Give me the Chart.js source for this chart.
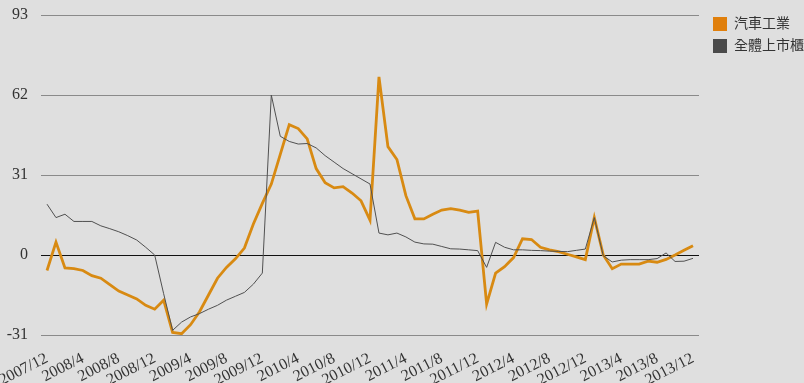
<!DOCTYPE html>
<html>
<head>
<meta charset="utf-8">
<script src="https://cdn.jsdelivr.net/npm/chart.js@4.4.1/dist/chart.umd.min.js"></script>
<style>
html,body{margin:0;padding:0;background:#dfdfdf;}
#wrap{width:804px;height:383px;position:relative;background:#dfdfdf;}
canvas{display:block;}
</style>
</head>
<body>
<div id="wrap"><canvas id="c" width="804" height="383"></canvas></div>
<script>
const months = [
 '2007/12',
 '2008/1','2008/2','2008/3','2008/4','2008/5','2008/6','2008/7','2008/8','2008/9','2008/10','2008/11','2008/12',
 '2009/1','2009/2','2009/3','2009/4','2009/5','2009/6','2009/7','2009/8','2009/9','2009/10','2009/11','2009/12',
 '2010/1','2010/2','2010/3','2010/4','2010/5','2010/6','2010/7','2010/8','2010/9','2010/10','2010/11','2010/12',
 '2011/1','2011/2','2011/3','2011/4','2011/5','2011/6','2011/7','2011/8','2011/9','2011/10','2011/11','2011/12',
 '2012/1','2012/2','2012/3','2012/4','2012/5','2012/6','2012/7','2012/8','2012/9','2012/10','2012/11','2012/12',
 '2013/1','2013/2','2013/3','2013/4','2013/5','2013/6','2013/7','2013/8','2013/9','2013/10','2013/11','2013/12'
];
const autoIndustry = [
 -6,
 5,-5,-5.3,-6,-8,-9,-11.5,-14,-15.5,-17,-19.5,-21,
 -17.5,-30,-30.5,-27,-22,-15.5,-9,-4.8,-1.5,2.7,12,20,
 27.5,39,50.5,49,45,33.5,28,26,26.5,24,21,13.5,
 69,42,37,23,14,14,15.8,17.4,18,17.4,16.5,17,
 -19,-7,-4.5,-1,6.3,6,3,2,1.3,0.3,-0.7,-1.8,
 14.5,0,-5.3,-3.5,-3.5,-3.5,-2.4,-2.8,-1.7,0,1.8,3.6
];
const allListed = [
 19.7,
 14.5,15.8,13,13,13,11.3,10.2,9,7.5,5.8,3,0,
 -15,-29.2,-26,-24,-22.7,-21,-19.5,-17.5,-16,-14.5,-11.3,-7,
 62,46,44,43,43.2,41.5,38.5,36,33.5,31.5,29.5,27.5,
 8.5,7.8,8.5,7,5,4.3,4.2,3.3,2.4,2.3,2,1.7,
 -4.8,4.9,3,2,2,1.8,1.7,1.5,1.4,1.3,1.8,2.3,
 14.5,-0.3,-2.7,-2,-1.8,-1.8,-1.8,-1.4,0.8,-2.5,-2.4,-1.3
];
const seriesNames = ['汽車工業','全體上市櫃'];
const xTickLabels = ['2007/12','2008/4','2008/8','2008/12','2009/4','2009/8','2009/12','2010/4','2010/8','2010/12','2011/4','2011/8','2011/12','2012/4','2012/8','2012/12','2013/4','2013/8','2013/12'];
const yTickValues = [-31,0,31,62,93];

const swatch = ['#e07f0c','#4a4a4a'];
const serif = '"Liberation Serif", "Times New Roman", "Noto Sans CJK TC", serif';

const legendShift = {
  id: 'legendShift',
  afterLayout(chart) {
    const l = chart.legend;
    if (!l) return;
    l.left += 6; l.right += 6;
    l.top += 2; l.bottom += 2;
  }
};

new Chart(document.getElementById('c'), {
  type: 'line',
  data: {
    datasets: [
      {
        label: seriesNames[0],
        data: autoIndustry.map((v, i) => ({x: i, y: v})),
        borderColor: '#d88a12',
        backgroundColor: swatch[0],
        borderWidth: 2.8,
        pointRadius: 0,
        tension: 0,
        order: 1
      },
      {
        label: seriesNames[1],
        data: allListed.map((v, i) => ({x: i, y: v})),
        borderColor: '#505050',
        backgroundColor: swatch[1],
        borderWidth: 1,
        pointRadius: 0,
        tension: 0,
        order: 0
      }
    ]
  },
  options: {
    responsive: false,
    animation: false,
    layout: {padding: {top: 7, left: 0, right: 0, bottom: 0}},
    plugins: {
      legend: {
        position: 'right',
        align: 'start',
        maxWidth: 105,
        labels: {
          boxWidth: 14,
          boxHeight: 14,
          padding: 8,
          color: '#333',
          font: {family: serif, size: 14},
          generateLabels: chart => Chart.defaults.plugins.legend.labels.generateLabels(chart).map(l => ({...l, lineWidth: 0, fillStyle: swatch[l.datasetIndex], strokeStyle: swatch[l.datasetIndex]})),
          sort: (a, b) => a.datasetIndex - b.datasetIndex
        }
      },
      tooltip: {enabled: false}
    },
    scales: {
      x: {
        type: 'linear',
        min: -0.67,
        max: 72.67,
        grid: {display: false},
        border: {display: false},
        afterBuildTicks: a => { a.ticks = xTickLabels.map(lbl => ({value: months.indexOf(lbl)})); },
        afterFit: a => { a.paddingLeft = 0; a.paddingRight = 0; a.height = 48; },
        ticks: {
          autoSkip: false,
          minRotation: 27,
          maxRotation: 27,
          padding: 6,
          color: '#333',
          font: {family: serif, size: 16},
          callback: v => months[v]
        }
      },
      y: {
        min: -31,
        max: 93,
        afterBuildTicks: a => { a.ticks = yTickValues.map(v => ({value: v})); },
        afterFit: a => { a.width = 41; a.paddingTop = 15; },
        grid: {
          color: c => (c.tick && c.tick.value === 0) ? '#111' : '#8a8a8a',
          lineWidth: 1,
          drawTicks: false
        },
        border: {display: false},
        ticks: {
          padding: 13,
          color: '#333',
          font: {family: serif, size: 16}
        }
      }
    }
  },
  plugins: [legendShift]
});
</script>
</body>
</html>
